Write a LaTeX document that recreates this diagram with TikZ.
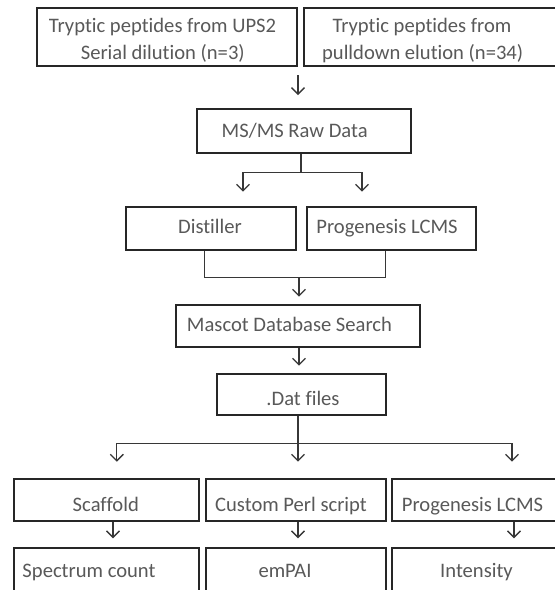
\documentclass[tikz,border=0pt]{standalone}
\usepackage{fontspec}
\setmainfont{Carlito}[Ligatures={NoCommon,NoContextual}]
\usetikzlibrary{arrows.meta}
\definecolor{txtgray}{RGB}{89,89,89}
\definecolor{boxline}{RGB}{38,38,38}
\definecolor{conline}{RGB}{55,55,55}
\tikzset{
  box/.style={draw=boxline, line width=2pt, inner sep=0pt, fill=none},
  lbl/.style={anchor=base, inner sep=0pt, text=txtgray, font=\fontsize{20.6}{24}\selectfont},
  conn/.style={draw=conline, line width=1.3pt},
  arr/.style={conn, -{Straight Barb[length=6.5pt,width=13pt,line width=1.3pt]}}
}
\begin{document}
\begin{tikzpicture}[x=1pt,y=-1pt]
\useasboundingbox (0,0) rectangle (555,590);
\clip (0,0) rectangle (555,590);
\fill[white] (0,0) rectangle (555,590);
% boxes
\node[box, minimum width=260.5, minimum height=57.4] (tl) at (166.75,37) {};
\node[box, minimum width=261.3, minimum height=57.4] (tr) at (434.35,37) {};
\node[box, minimum width=214.5, minimum height=43.7] (ms) at (303.75,130.85) {};
\node[box, minimum width=169.9, minimum height=42.7] (dist) at (210.65,228.65) {};
\node[box, minimum width=169.5, minimum height=42.7] (progA) at (391.25,228.65) {};
\node[box, minimum width=244, minimum height=41.7] (masc) at (298,325.85) {};
\node[box, minimum width=169.2, minimum height=41] (dat) at (301.2,394.5) {};
\node[box, minimum width=185.5, minimum height=42] (scaf) at (106.25,500) {};
\node[box, minimum width=180, minimum height=42] (perl) at (296,500) {};
\node[box, minimum width=173.5, minimum height=42] (progB) at (478.25,500) {};
\node[box, minimum width=185.5, minimum height=51.7] (spec) at (106.25,574.15) {};
\node[box, minimum width=180, minimum height=51.7] (empai) at (296,574.15) {};
\node[box, minimum width=173.5, minimum height=51.7] (inten) at (478.25,574.15) {};
% texts
\node[lbl] (t1a) at (162.5,32.3) {Tryptic peptides from UPS2};
\node[lbl] (t1b) at (162.8,59.3) {Serial dilution (n=3)};
\node[lbl] (t2a) at (422,32.3) {Tryptic peptides from};
\node[lbl] (t2b) at (422.7,59.3) {pulldown elution (n=34)};
\node[lbl] (tms) at (294.7,137.7) {MS/MS Raw Data};
\node[lbl] (tdist) at (210,233) {Distiller};
\node[lbl] (tprogA) at (387,233) {Progenesis LCMS};
\node[lbl] (tmasc) at (289.5,331.7) {Mascot Database Search};
\node[lbl] (tdat) at (303,405) {.Dat files};
\node[lbl] (tscaf) at (105.8,511.7) {Scaffold};
\node[lbl] (tperl) at (291,511.7) {Custom Perl script};
\node[lbl] (tprogB) at (472.5,511.7) {Progenesis LCMS};
\node[lbl] (tspec) at (89,577) {Spectrum count};
\node[lbl] (tempai) at (285,577) {emPAI};
\node[lbl] (tinten) at (476.5,577) {Intensity};
% connector points
\coordinate (a0) at (298,75);
\coordinate (a1) at (298,95);
\coordinate (b0) at (301,172.3);
\coordinate (bl) at (243,172.3);
\coordinate (br) at (362,172.3);
\coordinate (blt) at (243,191.7);
\coordinate (brt) at (362,191.7);
\coordinate (cl) at (204.6,277.3);
\coordinate (cr) at (385.8,277.3);
\coordinate (c0) at (299,277.3);
\coordinate (c1) at (299,296.7);
\coordinate (d1) at (299,365.7);
\coordinate (el) at (116.8,443.3);
\coordinate (er) at (512,443.3);
\coordinate (elt) at (116.8,461.7);
\coordinate (ert) at (512,461.7);
\coordinate (emt) at (298,461.7);
\coordinate (f1) at (113,538.3);
\coordinate (f2) at (298,538.3);
\coordinate (f3) at (514,538.3);
% connectors
\draw[arr] (a0) -- (a1);
\draw[conn] (ms.south -| b0) -- (b0);
\draw[conn] (bl) -- (br);
\draw[arr] (bl) -- (blt);
\draw[arr] (br) -- (brt);
\draw[conn] (dist.south -| cl) -- (cl) -- (cr) -- (progA.south -| cr);
\draw[arr] (c0) -- (c1);
\draw[arr] (masc.south -| d1) -- (d1);
\draw[arr] (dat.south -| emt) -- (emt);
\draw[conn] (el) -- (er);
\draw[arr] (el) -- (elt);
\draw[arr] (er) -- (ert);
\draw[arr] (scaf.south -| f1) -- (f1);
\draw[arr] (perl.south -| f2) -- (f2);
\draw[arr] (progB.south -| f3) -- (f3);
\end{tikzpicture}
\end{document}
